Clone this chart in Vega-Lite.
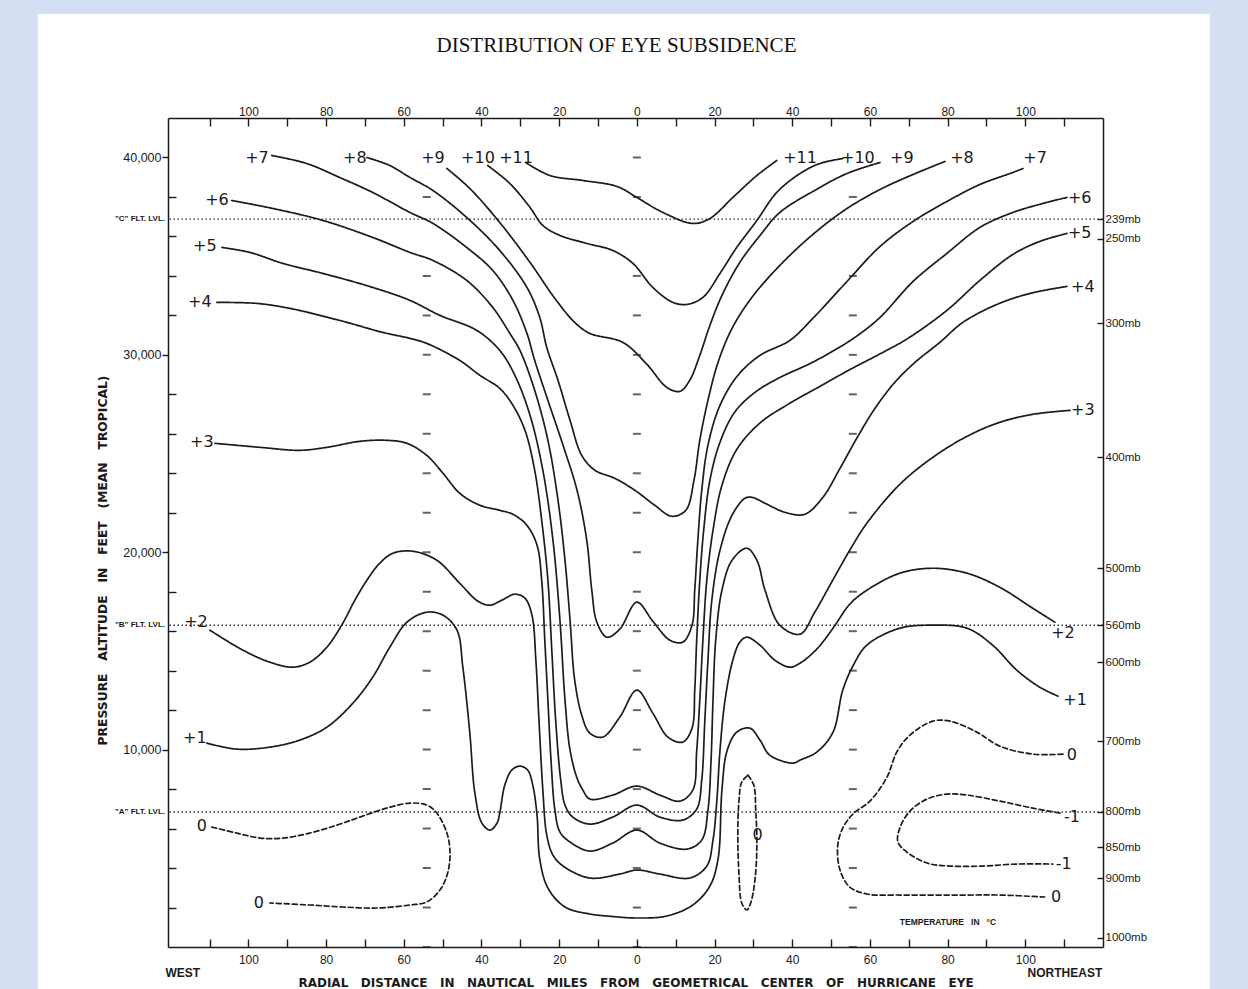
{
"$schema":"https://vega.github.io/schema/vega-lite/v6.json",
"width":935,"height":829,
"autosize":{"type":"none"},
"padding":{"left":168,"top":118,"right":145,"bottom":42},
"background":"#d5dff4",
"config":{"view":{"stroke":null},"axis":{"labelFont":"Liberation Sans","labelColor":"#1a1a1a","tickColor":"#1a1a1a","domainColor":"#1a1a1a","domainWidth":1.5,"tickWidth":1.4,"grid":false,"zindex":1,"titleColor":"#1a1a1a","labelOverlap":false,"labelFlush":false}},
"title":{"text":"DISTRIBUTION OF EYE SUBSIDENCE","font":"Liberation Serif","fontSize":21,"fontWeight":"normal","color":"#111","anchor":"middle","frame":"group","offset":-42,"dx":-19},
"datasets":{
"levels":[{"ft":36880,"name":"\"C\" FLT. LVL."},{"ft":16300,"name":"\"B\" FLT. LVL."},{"ft":6840,"name":"\"A\" FLT. LVL."}],
"marks":[
{"x":-54.1,"y":0},{"x":-54.1,"y":2000},{"x":-54.1,"y":4000},{"x":-54.1,"y":6000},{"x":-54.1,"y":8000},{"x":-54.1,"y":10000},{"x":-54.1,"y":12000},{"x":-54.1,"y":14000},{"x":-54.1,"y":16000},{"x":-54.1,"y":18000},{"x":-54.1,"y":20000},{"x":-54.1,"y":22000},{"x":-54.1,"y":24000},{"x":-54.1,"y":26000},{"x":-54.1,"y":28000},{"x":-54.1,"y":30000},{"x":-54.1,"y":32000},{"x":-54.1,"y":34000},{"x":-54.1,"y":38000},
{"x":0,"y":0},{"x":0,"y":2000},{"x":0,"y":4000},{"x":0,"y":6000},{"x":0,"y":8000},{"x":0,"y":10000},{"x":0,"y":12000},{"x":0,"y":14000},{"x":0,"y":16000},{"x":0,"y":18000},{"x":0,"y":20000},{"x":0,"y":22000},{"x":0,"y":24000},{"x":0,"y":26000},{"x":0,"y":28000},{"x":0,"y":30000},{"x":0,"y":32000},{"x":0,"y":34000},{"x":0,"y":38000},{"x":0,"y":40000},
{"x":55.6,"y":0},{"x":55.6,"y":2000},{"x":55.6,"y":4000},{"x":55.6,"y":6000},{"x":55.6,"y":8000},{"x":55.6,"y":10000},{"x":55.6,"y":12000},{"x":55.6,"y":14000},{"x":55.6,"y":16000},{"x":55.6,"y":18000},{"x":55.6,"y":20000},{"x":55.6,"y":22000},{"x":55.6,"y":24000},{"x":55.6,"y":26000},{"x":55.6,"y":28000},{"x":55.6,"y":30000},{"x":55.6,"y":32000},{"x":55.6,"y":34000},{"x":55.6,"y":38000}
],
"labels":[
{"s":"+7","x":-97.8,"y":39998},{"s":"+8","x":-72.6,"y":39998},{"s":"+9","x":-52.5,"y":39998},{"s":"+10","x":-40.9,"y":39998},{"s":"+11","x":-31.1,"y":39998},
{"s":"+11","x":42.0,"y":39998},{"s":"+10","x":56.9,"y":39998},{"s":"+9","x":68.2,"y":39998},{"s":"+8","x":83.7,"y":39998},{"s":"+7","x":102.5,"y":39998},
{"s":"+6","x":-108.1,"y":37821},{"s":"+5","x":-111.2,"y":35492},{"s":"+4","x":-112.5,"y":32657},{"s":"+3","x":-112.0,"y":25569},{"s":"+2","x":-113.5,"y":16455},{"s":"+1","x":-113.8,"y":10582},
{"s":"0","x":-112.0,"y":6127},{"s":"0","x":-97.3,"y":2228},
{"s":"+6","x":114.0,"y":37922},{"s":"+5","x":114.0,"y":36150},{"s":"+4","x":114.8,"y":33416},{"s":"+3","x":114.8,"y":27189},{"s":"+2","x":109.7,"y":15898},{"s":"+1","x":112.8,"y":12506},
{"s":"0","x":112.0,"y":9721},{"s":"-1","x":112.0,"y":6582},{"s":"-1","x":109.9,"y":4203},{"s":"0","x":107.9,"y":2532},{"s":"0","x":31.1,"y":5671}
],
"notes":[{"s":"WEST","x":-116.9,"y":-1314},{"s":"NORTHEAST","x":110.2,"y":-1300}],
"temp":[{"s":"TEMPERATURE\u00a0\u00a0\u00a0IN\u00a0\u00a0\u00a0°C","x":80.1,"y":1269}],
"lines":[
{"c":"11","t":11,"i":0,"x":-28.6,"y":39745},{"c":"11","t":11,"i":1,"x":-22.4,"y":39087},{"c":"11","t":11,"i":2,"x":-13.9,"y":38834},{"c":"11","t":11,"i":3,"x":-5.1,"y":38530},{"c":"11","t":11,"i":4,"x":0,"y":37973},{"c":"11","t":11,"i":5,"x":6.7,"y":37213},{"c":"11","t":11,"i":6,"x":14.4,"y":36657},{"c":"11","t":11,"i":7,"x":18.8,"y":36910},{"c":"11","t":11,"i":8,"x":24.7,"y":37973},{"c":"11","t":11,"i":9,"x":30.9,"y":39087},{"c":"11","t":11,"i":10,"x":36.0,"y":39846},
{"c":"10","t":10,"i":0,"x":-38.4,"y":39593},{"c":"10","t":10,"i":1,"x":-32.7,"y":38682},{"c":"10","t":10,"i":2,"x":-27.5,"y":37467},{"c":"10","t":10,"i":3,"x":-24.2,"y":36555},{"c":"10","t":10,"i":4,"x":-19.8,"y":36049},{"c":"10","t":10,"i":5,"x":-12.9,"y":35644},{"c":"10","t":10,"i":6,"x":-6.2,"y":35289},{"c":"10","t":10,"i":7,"x":-1.0,"y":34631},{"c":"10","t":10,"i":8,"x":4.1,"y":33416},{"c":"10","t":10,"i":9,"x":9.3,"y":32657},{"c":"10","t":10,"i":10,"x":12.9,"y":32555},{"c":"10","t":10,"i":11,"x":17.0,"y":32910},{"c":"10","t":10,"i":12,"x":21.4,"y":34125},{"c":"10","t":10,"i":13,"x":25.7,"y":35441},{"c":"10","t":10,"i":14,"x":30.9,"y":36808},{"c":"10","t":10,"i":15,"x":36.0,"y":38226},{"c":"10","t":10,"i":16,"x":42.0,"y":39188},{"c":"10","t":10,"i":17,"x":47.1,"y":39694},{"c":"10","t":10,"i":18,"x":53.0,"y":39947},
{"c":"9","t":9,"i":0,"x":-48.9,"y":39441},{"c":"9","t":9,"i":1,"x":-43.0,"y":38429},{"c":"9","t":9,"i":2,"x":-35.3,"y":36707},{"c":"9","t":9,"i":3,"x":-27.5,"y":34682},{"c":"9","t":9,"i":4,"x":-21.1,"y":32859},{"c":"9","t":9,"i":5,"x":-16.0,"y":31644},{"c":"9","t":9,"i":6,"x":-12.1,"y":31087},{"c":"9","t":9,"i":7,"x":-3.6,"y":30632},{"c":"9","t":9,"i":8,"x":2.6,"y":29518},{"c":"9","t":9,"i":9,"x":7.7,"y":28353},{"c":"9","t":9,"i":10,"x":11.1,"y":28151},{"c":"9","t":9,"i":11,"x":13.6,"y":28708},{"c":"9","t":9,"i":12,"x":16.2,"y":29973},{"c":"9","t":9,"i":13,"x":18.8,"y":31492},{"c":"9","t":9,"i":14,"x":21.9,"y":33011},{"c":"9","t":9,"i":15,"x":26.5,"y":34682},{"c":"9","t":9,"i":16,"x":31.7,"y":36049},{"c":"9","t":9,"i":17,"x":36.8,"y":37213},{"c":"9","t":9,"i":18,"x":45.3,"y":38277},{"c":"9","t":9,"i":19,"x":54.1,"y":39188},{"c":"9","t":9,"i":20,"x":62.6,"y":39745},
{"c":"8","t":8,"i":0,"x":-69.5,"y":39998},{"c":"8","t":8,"i":1,"x":-63.6,"y":39593},{"c":"8","t":8,"i":2,"x":-58.4,"y":38985},{"c":"8","t":8,"i":3,"x":-52.5,"y":38327},{"c":"8","t":8,"i":4,"x":-43.8,"y":36960},{"c":"8","t":8,"i":5,"x":-35.3,"y":35289},{"c":"8","t":8,"i":6,"x":-28.3,"y":33416},{"c":"8","t":8,"i":7,"x":-25.0,"y":31897},{"c":"8","t":8,"i":8,"x":-23.2,"y":30378},{"c":"8","t":8,"i":9,"x":-20.3,"y":28708},{"c":"8","t":8,"i":10,"x":-17.2,"y":26682},{"c":"8","t":8,"i":11,"x":-14.2,"y":24910},{"c":"8","t":8,"i":12,"x":-10.8,"y":24151},{"c":"8","t":8,"i":13,"x":-5.7,"y":23746},{"c":"8","t":8,"i":14,"x":-0.5,"y":23138},{"c":"8","t":8,"i":15,"x":4.6,"y":22379},{"c":"8","t":8,"i":16,"x":9.0,"y":21822},{"c":"8","t":8,"i":17,"x":12.6,"y":22126},{"c":"8","t":8,"i":18,"x":14.7,"y":23645},{"c":"8","t":8,"i":19,"x":16.2,"y":25670},{"c":"8","t":8,"i":20,"x":18.3,"y":27695},{"c":"8","t":8,"i":21,"x":20.9,"y":29619},{"c":"8","t":8,"i":22,"x":24.5,"y":31340},{"c":"8","t":8,"i":23,"x":29.6,"y":32910},{"c":"8","t":8,"i":24,"x":36.8,"y":34530},{"c":"8","t":8,"i":25,"x":45.3,"y":36100},{"c":"8","t":8,"i":26,"x":54.1,"y":37416},{"c":"8","t":8,"i":27,"x":62.6,"y":38378},{"c":"8","t":8,"i":28,"x":71.1,"y":39137},{"c":"8","t":8,"i":29,"x":79.3,"y":39796},
{"c":"7","t":7,"i":0,"x":-94.0,"y":40099},{"c":"7","t":7,"i":1,"x":-85.0,"y":39694},{"c":"7","t":7,"i":2,"x":-76.5,"y":38985},{"c":"7","t":7,"i":3,"x":-68.0,"y":38226},{"c":"7","t":7,"i":4,"x":-58.4,"y":37213},{"c":"7","t":7,"i":5,"x":-52.5,"y":36657},{"c":"7","t":7,"i":6,"x":-43.8,"y":35441},{"c":"7","t":7,"i":7,"x":-37.1,"y":34277},{"c":"7","t":7,"i":8,"x":-31.9,"y":32758},{"c":"7","t":7,"i":9,"x":-28.3,"y":31087},{"c":"7","t":7,"i":10,"x":-26.3,"y":29720},{"c":"7","t":7,"i":11,"x":-22.9,"y":27695},{"c":"7","t":7,"i":12,"x":-19.0,"y":25417},{"c":"7","t":7,"i":13,"x":-15.4,"y":23138},{"c":"7","t":7,"i":14,"x":-12.9,"y":20607},{"c":"7","t":7,"i":15,"x":-11.6,"y":18075},{"c":"7","t":7,"i":16,"x":-10.3,"y":16455},{"c":"7","t":7,"i":17,"x":-7.7,"y":15696},{"c":"7","t":7,"i":18,"x":-4.4,"y":16101},{"c":"7","t":7,"i":19,"x":0,"y":17468},{"c":"7","t":7,"i":20,"x":4.1,"y":16506},{"c":"7","t":7,"i":21,"x":8.5,"y":15544},{"c":"7","t":7,"i":22,"x":11.8,"y":15443},{"c":"7","t":7,"i":23,"x":14.2,"y":16303},{"c":"7","t":7,"i":24,"x":14.9,"y":18075},{"c":"7","t":7,"i":25,"x":15.7,"y":20607},{"c":"7","t":7,"i":26,"x":16.7,"y":23138},{"c":"7","t":7,"i":27,"x":18.3,"y":25417},{"c":"7","t":7,"i":28,"x":21.4,"y":27442},{"c":"7","t":7,"i":29,"x":26.0,"y":28961},{"c":"7","t":7,"i":30,"x":31.7,"y":29973},{"c":"7","t":7,"i":31,"x":39.4,"y":30733},{"c":"7","t":7,"i":32,"x":45.3,"y":31847},{"c":"7","t":7,"i":33,"x":54.1,"y":33720},{"c":"7","t":7,"i":34,"x":62.6,"y":35492},{"c":"7","t":7,"i":35,"x":71.1,"y":36758},{"c":"7","t":7,"i":36,"x":79.8,"y":37770},{"c":"7","t":7,"i":37,"x":88.3,"y":38631},{"c":"7","t":7,"i":38,"x":96.8,"y":39239},{"c":"7","t":7,"i":39,"x":99.4,"y":39441},
{"c":"6","t":6,"i":0,"x":-104.3,"y":37821},{"c":"6","t":6,"i":1,"x":-93.7,"y":37416},{"c":"6","t":6,"i":2,"x":-80.8,"y":36808},{"c":"6","t":6,"i":3,"x":-68.0,"y":35948},{"c":"6","t":6,"i":4,"x":-58.4,"y":35188},{"c":"6","t":6,"i":5,"x":-52.5,"y":34783},{"c":"6","t":6,"i":6,"x":-43.8,"y":33771},{"c":"6","t":6,"i":7,"x":-37.1,"y":32404},{"c":"6","t":6,"i":8,"x":-32.7,"y":31087},{"c":"6","t":6,"i":9,"x":-30.1,"y":30226},{"c":"6","t":6,"i":10,"x":-26.3,"y":28201},{"c":"6","t":6,"i":11,"x":-22.9,"y":25670},{"c":"6","t":6,"i":12,"x":-20.3,"y":22632},{"c":"6","t":6,"i":13,"x":-18.5,"y":19594},{"c":"6","t":6,"i":14,"x":-17.2,"y":16556},{"c":"6","t":6,"i":15,"x":-16.0,"y":13519},{"c":"6","t":6,"i":16,"x":-14.2,"y":11747},{"c":"6","t":6,"i":17,"x":-12.1,"y":10835},{"c":"6","t":6,"i":18,"x":-8.8,"y":10633},{"c":"6","t":6,"i":19,"x":-4.4,"y":11645},{"c":"6","t":6,"i":20,"x":0,"y":13012},{"c":"6","t":6,"i":21,"x":4.1,"y":11848},{"c":"6","t":6,"i":22,"x":8.0,"y":10633},{"c":"6","t":6,"i":23,"x":11.8,"y":10380},{"c":"6","t":6,"i":24,"x":14.2,"y":11088},{"c":"6","t":6,"i":25,"x":14.9,"y":13012},{"c":"6","t":6,"i":26,"x":15.4,"y":15544},{"c":"6","t":6,"i":27,"x":16.2,"y":18582},{"c":"6","t":6,"i":28,"x":17.2,"y":21113},{"c":"6","t":6,"i":29,"x":18.8,"y":23645},{"c":"6","t":6,"i":30,"x":21.4,"y":25570},{"c":"6","t":6,"i":31,"x":25.2,"y":27100},{"c":"6","t":6,"i":32,"x":30.4,"y":28100},{"c":"6","t":6,"i":33,"x":36.8,"y":28850},{"c":"6","t":6,"i":34,"x":44.5,"y":29550},{"c":"6","t":6,"i":35,"x":51.0,"y":30250},{"c":"6","t":6,"i":36,"x":56.6,"y":30950},{"c":"6","t":6,"i":37,"x":62.6,"y":31897},{"c":"6","t":6,"i":38,"x":71.1,"y":33720},{"c":"6","t":6,"i":39,"x":79.8,"y":35138},{"c":"6","t":6,"i":40,"x":88.3,"y":36454},{"c":"6","t":6,"i":41,"x":96.8,"y":37213},{"c":"6","t":6,"i":42,"x":105.5,"y":37720},{"c":"6","t":6,"i":43,"x":110.7,"y":37973},
{"c":"5","t":5,"i":0,"x":-106.8,"y":35441},{"c":"5","t":5,"i":1,"x":-99.6,"y":35188},{"c":"5","t":5,"i":2,"x":-91.1,"y":34631},{"c":"5","t":5,"i":3,"x":-80.8,"y":34125},{"c":"5","t":5,"i":4,"x":-68.0,"y":33416},{"c":"5","t":5,"i":5,"x":-58.4,"y":32758},{"c":"5","t":5,"i":6,"x":-50.7,"y":31999},{"c":"5","t":5,"i":7,"x":-41.2,"y":31239},{"c":"5","t":5,"i":8,"x":-35.3,"y":30226},{"c":"5","t":5,"i":9,"x":-31.4,"y":28961},{"c":"5","t":5,"i":10,"x":-27.5,"y":26936},{"c":"5","t":5,"i":11,"x":-24.2,"y":24151},{"c":"5","t":5,"i":12,"x":-21.6,"y":20607},{"c":"5","t":5,"i":13,"x":-19.8,"y":16556},{"c":"5","t":5,"i":14,"x":-18.5,"y":12506},{"c":"5","t":5,"i":15,"x":-17.2,"y":9974},{"c":"5","t":5,"i":16,"x":-15.4,"y":8557},{"c":"5","t":5,"i":17,"x":-13.9,"y":7949},{"c":"5","t":5,"i":18,"x":-12.1,"y":7494},{"c":"5","t":5,"i":19,"x":-6.2,"y":7696},{"c":"5","t":5,"i":20,"x":0,"y":8152},{"c":"5","t":5,"i":21,"x":5.9,"y":7696},{"c":"5","t":5,"i":22,"x":11.1,"y":7392},{"c":"5","t":5,"i":23,"x":14.4,"y":7949},{"c":"5","t":5,"i":24,"x":15.4,"y":9924},{"c":"5","t":5,"i":25,"x":16.2,"y":12506},{"c":"5","t":5,"i":26,"x":17.0,"y":15544},{"c":"5","t":5,"i":27,"x":18.0,"y":18582},{"c":"5","t":5,"i":28,"x":19.6,"y":21113},{"c":"5","t":5,"i":29,"x":21.9,"y":23391},{"c":"5","t":5,"i":30,"x":25.7,"y":25200},{"c":"5","t":5,"i":31,"x":31.7,"y":26550},{"c":"5","t":5,"i":32,"x":39.4,"y":27550},{"c":"5","t":5,"i":33,"x":47.1,"y":28400},{"c":"5","t":5,"i":34,"x":54.8,"y":29250},{"c":"5","t":5,"i":35,"x":62.6,"y":30050},{"c":"5","t":5,"i":36,"x":69.5,"y":30800},{"c":"5","t":5,"i":37,"x":79.8,"y":32252},{"c":"5","t":5,"i":38,"x":88.3,"y":33771},{"c":"5","t":5,"i":39,"x":96.8,"y":35087},{"c":"5","t":5,"i":40,"x":103.7,"y":35745},{"c":"5","t":5,"i":41,"x":110.7,"y":36150},
{"c":"4","t":4,"i":0,"x":-108.1,"y":32657},{"c":"4","t":4,"i":1,"x":-97.8,"y":32606},{"c":"4","t":4,"i":2,"x":-89.3,"y":32353},{"c":"4","t":4,"i":3,"x":-76.5,"y":31745},{"c":"4","t":4,"i":4,"x":-65.4,"y":31138},{"c":"4","t":4,"i":5,"x":-58.4,"y":30834},{"c":"4","t":4,"i":6,"x":-54.1,"y":30581},{"c":"4","t":4,"i":7,"x":-45.6,"y":29720},{"c":"4","t":4,"i":8,"x":-40.4,"y":28961},{"c":"4","t":4,"i":9,"x":-35.3,"y":28303},{"c":"4","t":4,"i":10,"x":-31.9,"y":27442},{"c":"4","t":4,"i":11,"x":-28.8,"y":26176},{"c":"4","t":4,"i":12,"x":-26.3,"y":24151},{"c":"4","t":4,"i":13,"x":-24.5,"y":21619},{"c":"4","t":4,"i":14,"x":-22.9,"y":18582},{"c":"4","t":4,"i":15,"x":-21.9,"y":15037},{"c":"4","t":4,"i":16,"x":-20.9,"y":11493},{"c":"4","t":4,"i":17,"x":-19.6,"y":8456},{"c":"4","t":4,"i":18,"x":-18.5,"y":7190},{"c":"4","t":4,"i":19,"x":-16.5,"y":6582},{"c":"4","t":4,"i":20,"x":-12.1,"y":6228},{"c":"4","t":4,"i":21,"x":-6.2,"y":6582},{"c":"4","t":4,"i":22,"x":0,"y":7190},{"c":"4","t":4,"i":23,"x":5.9,"y":6582},{"c":"4","t":4,"i":24,"x":11.8,"y":6430},{"c":"4","t":4,"i":25,"x":15.4,"y":6987},{"c":"4","t":4,"i":26,"x":16.7,"y":8456},{"c":"4","t":4,"i":27,"x":17.5,"y":11493},{"c":"4","t":4,"i":28,"x":18.3,"y":14531},{"c":"4","t":4,"i":29,"x":19.3,"y":17569},{"c":"4","t":4,"i":30,"x":21.4,"y":20100},{"c":"4","t":4,"i":31,"x":24.5,"y":21873},{"c":"4","t":4,"i":32,"x":27.8,"y":22733},{"c":"4","t":4,"i":33,"x":29.6,"y":22784},{"c":"4","t":4,"i":34,"x":33.0,"y":22480},{"c":"4","t":4,"i":35,"x":38.1,"y":22024},{"c":"4","t":4,"i":36,"x":43.2,"y":21923},{"c":"4","t":4,"i":37,"x":47.9,"y":22784},{"c":"4","t":4,"i":38,"x":52.3,"y":24252},{"c":"4","t":4,"i":39,"x":56.6,"y":25771},{"c":"4","t":4,"i":40,"x":61.3,"y":27290},{"c":"4","t":4,"i":41,"x":66.4,"y":28606},{"c":"4","t":4,"i":42,"x":71.6,"y":29619},{"c":"4","t":4,"i":43,"x":78.0,"y":30632},{"c":"4","t":4,"i":44,"x":83.9,"y":31644},{"c":"4","t":4,"i":45,"x":92.7,"y":32555},{"c":"4","t":4,"i":46,"x":101.2,"y":33112},{"c":"4","t":4,"i":47,"x":110.7,"y":33467},
{"c":"3","t":3,"i":0,"x":-108.6,"y":25518},{"c":"3","t":3,"i":1,"x":-97.0,"y":25315},{"c":"3","t":3,"i":2,"x":-86.8,"y":25163},{"c":"3","t":3,"i":3,"x":-79.8,"y":25315},{"c":"3","t":3,"i":4,"x":-71.3,"y":25619},{"c":"3","t":3,"i":5,"x":-64.4,"y":25670},{"c":"3","t":3,"i":6,"x":-59.2,"y":25518},{"c":"3","t":3,"i":7,"x":-54.1,"y":24910},{"c":"3","t":3,"i":8,"x":-49.9,"y":23999},{"c":"3","t":3,"i":9,"x":-45.6,"y":22986},{"c":"3","t":3,"i":10,"x":-40.4,"y":22379},{"c":"3","t":3,"i":11,"x":-35.3,"y":22126},{"c":"3","t":3,"i":12,"x":-31.9,"y":21923},{"c":"3","t":3,"i":13,"x":-28.3,"y":21366},{"c":"3","t":3,"i":14,"x":-25.7,"y":20354},{"c":"3","t":3,"i":15,"x":-24.5,"y":18582},{"c":"3","t":3,"i":16,"x":-23.7,"y":15544},{"c":"3","t":3,"i":17,"x":-22.9,"y":12506},{"c":"3","t":3,"i":18,"x":-22.1,"y":9468},{"c":"3","t":3,"i":19,"x":-21.1,"y":6937},{"c":"3","t":3,"i":20,"x":-19.8,"y":5823},{"c":"3","t":3,"i":21,"x":-17.2,"y":5317},{"c":"3","t":3,"i":22,"x":-12.1,"y":4861},{"c":"3","t":3,"i":23,"x":-6.2,"y":5266},{"c":"3","t":3,"i":24,"x":0,"y":5924},{"c":"3","t":3,"i":25,"x":5.9,"y":5266},{"c":"3","t":3,"i":26,"x":12.9,"y":4962},{"c":"3","t":3,"i":27,"x":16.7,"y":5418},{"c":"3","t":3,"i":28,"x":18.3,"y":6937},{"c":"3","t":3,"i":29,"x":19.1,"y":9468},{"c":"3","t":3,"i":30,"x":19.6,"y":12506},{"c":"3","t":3,"i":31,"x":20.3,"y":15544},{"c":"3","t":3,"i":32,"x":21.9,"y":18075},{"c":"3","t":3,"i":33,"x":24.5,"y":19594},{"c":"3","t":3,"i":34,"x":28.3,"y":20202},{"c":"3","t":3,"i":35,"x":30.9,"y":19594},{"c":"3","t":3,"i":36,"x":33.0,"y":18075},{"c":"3","t":3,"i":37,"x":36.8,"y":16303},{"c":"3","t":3,"i":38,"x":42.0,"y":15848},{"c":"3","t":3,"i":39,"x":45.8,"y":16961},{"c":"3","t":3,"i":40,"x":49.7,"y":18328},{"c":"3","t":3,"i":41,"x":54.8,"y":20100},{"c":"3","t":3,"i":42,"x":59.2,"y":21468},{"c":"3","t":3,"i":43,"x":67.7,"y":23442},{"c":"3","t":3,"i":44,"x":76.2,"y":24809},{"c":"3","t":3,"i":45,"x":85.0,"y":25872},{"c":"3","t":3,"i":46,"x":93.4,"y":26581},{"c":"3","t":3,"i":47,"x":101.9,"y":26986},{"c":"3","t":3,"i":48,"x":111.5,"y":27189},
{"c":"2","t":2,"i":0,"x":-109.9,"y":16050},{"c":"2","t":2,"i":1,"x":-101.4,"y":15037},{"c":"2","t":2,"i":2,"x":-94.5,"y":14430},{"c":"2","t":2,"i":3,"x":-88.6,"y":14177},{"c":"2","t":2,"i":4,"x":-84.2,"y":14430},{"c":"2","t":2,"i":5,"x":-79.8,"y":15189},{"c":"2","t":2,"i":6,"x":-75.7,"y":16405},{"c":"2","t":2,"i":7,"x":-72.6,"y":17569},{"c":"2","t":2,"i":8,"x":-69.5,"y":18582},{"c":"2","t":2,"i":9,"x":-66.2,"y":19442},{"c":"2","t":2,"i":10,"x":-62.8,"y":19949},{"c":"2","t":2,"i":11,"x":-57.7,"y":20050},{"c":"2","t":2,"i":12,"x":-51.5,"y":19594},{"c":"2","t":2,"i":13,"x":-45.6,"y":18430},{"c":"2","t":2,"i":14,"x":-40.9,"y":17518},{"c":"2","t":2,"i":15,"x":-37.8,"y":17316},{"c":"2","t":2,"i":16,"x":-34.8,"y":17569},{"c":"2","t":2,"i":17,"x":-31.4,"y":17873},{"c":"2","t":2,"i":18,"x":-28.8,"y":17670},{"c":"2","t":2,"i":19,"x":-27.0,"y":16810},{"c":"2","t":2,"i":20,"x":-26.0,"y":14531},{"c":"2","t":2,"i":21,"x":-25.2,"y":11493},{"c":"2","t":2,"i":22,"x":-24.2,"y":7949},{"c":"2","t":2,"i":23,"x":-23.2,"y":5671},{"c":"2","t":2,"i":24,"x":-21.6,"y":4658},{"c":"2","t":2,"i":25,"x":-19.0,"y":4101},{"c":"2","t":2,"i":26,"x":-12.1,"y":3494},{"c":"2","t":2,"i":27,"x":-4.4,"y":3696},{"c":"2","t":2,"i":28,"x":0,"y":3899},{"c":"2","t":2,"i":29,"x":5.9,"y":3696},{"c":"2","t":2,"i":30,"x":13.6,"y":3494},{"c":"2","t":2,"i":31,"x":18.0,"y":4101},{"c":"2","t":2,"i":32,"x":19.6,"y":5418},{"c":"2","t":2,"i":33,"x":20.6,"y":7443},{"c":"2","t":2,"i":34,"x":21.4,"y":9974},{"c":"2","t":2,"i":35,"x":22.7,"y":12506},{"c":"2","t":2,"i":36,"x":24.7,"y":14531},{"c":"2","t":2,"i":37,"x":26.5,"y":15443},{"c":"2","t":2,"i":38,"x":28.3,"y":15696},{"c":"2","t":2,"i":39,"x":31.7,"y":15291},{"c":"2","t":2,"i":40,"x":35.5,"y":14531},{"c":"2","t":2,"i":41,"x":39.4,"y":14177},{"c":"2","t":2,"i":42,"x":42.0,"y":14379},{"c":"2","t":2,"i":43,"x":46.3,"y":15088},{"c":"2","t":2,"i":44,"x":50.5,"y":16151},{"c":"2","t":2,"i":45,"x":54.8,"y":17366},{"c":"2","t":2,"i":46,"x":59.2,"y":18075},{"c":"2","t":2,"i":47,"x":67.7,"y":18936},{"c":"2","t":2,"i":48,"x":76.2,"y":19189},{"c":"2","t":2,"i":49,"x":85.0,"y":18936},{"c":"2","t":2,"i":50,"x":93.4,"y":18227},{"c":"2","t":2,"i":51,"x":101.9,"y":17164},{"c":"2","t":2,"i":52,"x":107.6,"y":16455},
{"c":"1","t":1,"i":0,"x":-110.7,"y":10329},{"c":"1","t":1,"i":1,"x":-103.0,"y":10025},{"c":"1","t":1,"i":2,"x":-94.5,"y":10126},{"c":"1","t":1,"i":3,"x":-86.8,"y":10481},{"c":"1","t":1,"i":4,"x":-79.8,"y":11139},{"c":"1","t":1,"i":5,"x":-73.1,"y":12354},{"c":"1","t":1,"i":6,"x":-68.0,"y":13670},{"c":"1","t":1,"i":7,"x":-63.6,"y":15189},{"c":"1","t":1,"i":8,"x":-59.2,"y":16455},{"c":"1","t":1,"i":9,"x":-54.1,"y":16961},{"c":"1","t":1,"i":10,"x":-49.9,"y":16810},{"c":"1","t":1,"i":11,"x":-46.3,"y":16050},{"c":"1","t":1,"i":12,"x":-44.8,"y":14177},{"c":"1","t":1,"i":13,"x":-43.0,"y":10835},{"c":"1","t":1,"i":14,"x":-41.7,"y":7797},{"c":"1","t":1,"i":15,"x":-39.9,"y":6279},{"c":"1","t":1,"i":16,"x":-37.8,"y":5924},{"c":"1","t":1,"i":17,"x":-36.0,"y":6279},{"c":"1","t":1,"i":18,"x":-35.3,"y":6785},{"c":"1","t":1,"i":19,"x":-34.0,"y":8202},{"c":"1","t":1,"i":20,"x":-32.2,"y":8962},{"c":"1","t":1,"i":21,"x":-30.1,"y":9164},{"c":"1","t":1,"i":22,"x":-28.1,"y":8962},{"c":"1","t":1,"i":23,"x":-26.8,"y":8202},{"c":"1","t":1,"i":24,"x":-25.7,"y":6684},{"c":"1","t":1,"i":25,"x":-25.0,"y":4456},{"c":"1","t":1,"i":26,"x":-22.9,"y":2988},{"c":"1","t":1,"i":27,"x":-18.5,"y":2026},{"c":"1","t":1,"i":28,"x":-12.1,"y":1671},{"c":"1","t":1,"i":29,"x":-7.7,"y":1570},{"c":"1","t":1,"i":30,"x":0,"y":1469},{"c":"1","t":1,"i":31,"x":7.7,"y":1570},{"c":"1","t":1,"i":32,"x":14.4,"y":2127},{"c":"1","t":1,"i":33,"x":18.8,"y":3089},{"c":"1","t":1,"i":34,"x":20.9,"y":4456},{"c":"1","t":1,"i":35,"x":21.9,"y":7949},{"c":"1","t":1,"i":36,"x":23.2,"y":9924},{"c":"1","t":1,"i":37,"x":25.7,"y":10886},{"c":"1","t":1,"i":38,"x":29.1,"y":11088},{"c":"1","t":1,"i":39,"x":31.7,"y":10481},{"c":"1","t":1,"i":40,"x":34.2,"y":9721},{"c":"1","t":1,"i":41,"x":40.2,"y":9316},{"c":"1","t":1,"i":42,"x":42.0,"y":9468},{"c":"1","t":1,"i":43,"x":46.3,"y":9873},{"c":"1","t":1,"i":44,"x":50.5,"y":10886},{"c":"1","t":1,"i":45,"x":53.0,"y":13012},{"c":"1","t":1,"i":46,"x":55.6,"y":14227},{"c":"1","t":1,"i":47,"x":59.2,"y":15291},{"c":"1","t":1,"i":48,"x":67.7,"y":16151},{"c":"1","t":1,"i":49,"x":76.2,"y":16303},{"c":"1","t":1,"i":50,"x":85.0,"y":16151},{"c":"1","t":1,"i":51,"x":91.6,"y":15291},{"c":"1","t":1,"i":52,"x":97.8,"y":14025},{"c":"1","t":1,"i":53,"x":103.7,"y":13164},{"c":"1","t":1,"i":54,"x":108.4,"y":12709},
{"c":"0w","t":0,"i":0,"x":-109.4,"y":6076},{"c":"0w","t":0,"i":1,"x":-103.0,"y":5772},{"c":"0w","t":0,"i":2,"x":-97.0,"y":5519},{"c":"0w","t":0,"i":3,"x":-91.1,"y":5519},{"c":"0w","t":0,"i":4,"x":-84.2,"y":5772},{"c":"0w","t":0,"i":5,"x":-77.2,"y":6177},{"c":"0w","t":0,"i":6,"x":-71.3,"y":6582},{"c":"0w","t":0,"i":7,"x":-64.4,"y":7038},{"c":"0w","t":0,"i":8,"x":-58.4,"y":7291},{"c":"0w","t":0,"i":9,"x":-54.1,"y":7190},{"c":"0w","t":0,"i":10,"x":-51.5,"y":6785},{"c":"0w","t":0,"i":11,"x":-48.9,"y":5772},{"c":"0w","t":0,"i":12,"x":-48.1,"y":4760},{"c":"0w","t":0,"i":13,"x":-48.7,"y":3747},{"c":"0w","t":0,"i":14,"x":-50.7,"y":2886},{"c":"0w","t":0,"i":15,"x":-54.1,"y":2279},{"c":"0w","t":0,"i":16,"x":-58.4,"y":2127},{"c":"0w","t":0,"i":17,"x":-66.9,"y":1975},{"c":"0w","t":0,"i":18,"x":-75.7,"y":2026},{"c":"0w","t":0,"i":19,"x":-84.2,"y":2127},{"c":"0w","t":0,"i":20,"x":-94.5,"y":2228},
{"c":"0c","t":0,"i":0,"x":28.6,"y":8709},{"c":"0c","t":0,"i":1,"x":30.1,"y":8202},{"c":"0c","t":0,"i":2,"x":30.6,"y":6937},{"c":"0c","t":0,"i":3,"x":30.9,"y":5165},{"c":"0c","t":0,"i":4,"x":30.4,"y":3393},{"c":"0c","t":0,"i":5,"x":29.3,"y":2228},{"c":"0c","t":0,"i":6,"x":28.3,"y":1874},{"c":"0c","t":0,"i":7,"x":27.0,"y":2228},{"c":"0c","t":0,"i":8,"x":26.3,"y":3646},{"c":"0c","t":0,"i":9,"x":26.0,"y":5671},{"c":"0c","t":0,"i":10,"x":26.3,"y":7443},{"c":"0c","t":0,"i":11,"x":27.0,"y":8354},{"c":"0c","t":0,"i":12,"x":28.6,"y":8709},
{"c":"0e","t":0,"i":0,"x":109.7,"y":9772},{"c":"0e","t":0,"i":1,"x":101.9,"y":9772},{"c":"0e","t":0,"i":2,"x":93.4,"y":10177},{"c":"0e","t":0,"i":3,"x":87.5,"y":10886},{"c":"0e","t":0,"i":4,"x":80.6,"y":11443},{"c":"0e","t":0,"i":5,"x":76.2,"y":11443},{"c":"0e","t":0,"i":6,"x":70.3,"y":10734},{"c":"0e","t":0,"i":7,"x":66.9,"y":9873},{"c":"0e","t":0,"i":8,"x":64.4,"y":8607},{"c":"0e","t":0,"i":9,"x":60.0,"y":7392},{"c":"0e","t":0,"i":10,"x":55.6,"y":6734},{"c":"0e","t":0,"i":11,"x":53.0,"y":6025},{"c":"0e","t":0,"i":12,"x":51.7,"y":5114},{"c":"0e","t":0,"i":13,"x":52.3,"y":3899},{"c":"0e","t":0,"i":14,"x":54.8,"y":3038},{"c":"0e","t":0,"i":15,"x":59.2,"y":2684},{"c":"0e","t":0,"i":16,"x":67.7,"y":2633},{"c":"0e","t":0,"i":17,"x":76.2,"y":2633},{"c":"0e","t":0,"i":18,"x":85.0,"y":2633},{"c":"0e","t":0,"i":19,"x":93.4,"y":2633},{"c":"0e","t":0,"i":20,"x":105.0,"y":2532},
{"c":"m1","t":-1,"i":0,"x":108.9,"y":6785},{"c":"m1","t":-1,"i":1,"x":101.9,"y":7038},{"c":"m1","t":-1,"i":2,"x":93.4,"y":7392},{"c":"m1","t":-1,"i":3,"x":85.0,"y":7696},{"c":"m1","t":-1,"i":4,"x":79.8,"y":7747},{"c":"m1","t":-1,"i":5,"x":74.7,"y":7494},{"c":"m1","t":-1,"i":6,"x":70.3,"y":6886},{"c":"m1","t":-1,"i":7,"x":67.7,"y":6025},{"c":"m1","t":-1,"i":8,"x":67.2,"y":5317},{"c":"m1","t":-1,"i":9,"x":69.5,"y":4810},{"c":"m1","t":-1,"i":10,"x":74.7,"y":4253},{"c":"m1","t":-1,"i":11,"x":80.6,"y":4101},{"c":"m1","t":-1,"i":12,"x":89.1,"y":4101},{"c":"m1","t":-1,"i":13,"x":97.8,"y":4203},{"c":"m1","t":-1,"i":14,"x":107.1,"y":4203}
]
},
"layer":[
{"data":{"values":[{}]},"mark":{"type":"rect","fill":"white"},
 "encoding":{"x":{"datum":-154.2,"type":"quantitative","scale":{"domain":[-120.7,120],"nice":false,"zero":false},"axis":null},"x2":{"datum":147.5},
 "y":{"datum":47270,"type":"quantitative","scale":{"domain":[0,42000],"nice":false,"zero":false},"axis":null},"y2":{"datum":-2500}}},
{"data":{"name":"levels"},"mark":{"type":"rule","strokeDash":[1.5,2.5],"strokeWidth":1.3,"color":"#333"},
 "encoding":{"y":{"field":"ft","type":"quantitative","scale":{"domain":[0,42000],"nice":false,"zero":false},
  "axis":{"orient":"right","values":[36880,35880,31600,24810,19190,16300,14430,10430,6840,5060,3490,460],"labelExpr":"datum.value==36880?'239mb':datum.value==35880?'250mb':datum.value==31600?'300mb':datum.value==24810?'400mb':datum.value==19190?'500mb':datum.value==16300?'560mb':datum.value==14430?'600mb':datum.value==10430?'700mb':datum.value==6840?'800mb':datum.value==5060?'850mb':datum.value==3490?'900mb':'1000mb'","tickSize":-6,"labelPadding":8,"labelFontSize":11.5,"title":null,"zindex":1}}}},
{"data":{"name":"marks"},"mark":{"type":"tick","orient":"horizontal","size":8,"thickness":2,"color":"#222"},
 "encoding":{"x":{"field":"x","type":"quantitative","scale":{"domain":[-120.7,120],"nice":false,"zero":false},
  "axis":{"orient":"top","values":[-110,-100,-90,-80,-70,-60,-50,-40,-30,-20,-10,0,10,20,30,40,50,60,70,80,90,100,110],"labelExpr":"datum.value % 20 == 0 ? format(abs(datum.value),'d') : ''","tickSize":-8,"labelPadding":8,"labelFontSize":12,"title":null,"zindex":1}},
  "y":{"field":"y","type":"quantitative","scale":{"domain":[0,42000],"nice":false,"zero":false},
  "axis":{"orient":"left","values":[2000,4000,6000,8000,12000,14000,16000,18000,22000,24000,26000,28000,32000,34000,36000,38000],"labels":false,"tickSize":-8,"domain":false,"title":null,"zindex":1}}}},
{"data":{"name":"lines"},"mark":{"type":"line","interpolate":"catmull-rom","strokeWidth":1.7,"color":"#1c1c1c","strokeJoin":"round","strokeCap":"round"},
 "encoding":{"x":{"field":"x","type":"quantitative","scale":{"domain":[-120.7,120],"nice":false,"zero":false},
  "axis":{"orient":"bottom","values":[-110,-100,-90,-80,-70,-60,-50,-40,-30,-20,-10,0,10,20,30,40,50,60,70,80,90,100,110],"labelExpr":"datum.value % 20 == 0 ? format(abs(datum.value),'d') : ''","tickSize":-8,"labelPadding":15,"labelFontSize":12,
   "title":"RADIAL\u00a0\u00a0\u00a0DISTANCE\u00a0\u00a0\u00a0IN\u00a0\u00a0\u00a0NAUTICAL\u00a0\u00a0\u00a0MILES\u00a0\u00a0\u00a0FROM\u00a0\u00a0\u00a0GEOMETRICAL\u00a0\u00a0\u00a0CENTER\u00a0\u00a0\u00a0OF\u00a0\u00a0\u00a0HURRICANE\u00a0\u00a0\u00a0EYE","titleFont":"DejaVu Sans","titleFontSize":12,"titleFontWeight":"bold","titleY":30,"titleBaseline":"top","zindex":1}},
  "y":{"field":"y","type":"quantitative","scale":{"domain":[0,42000],"nice":false,"zero":false},
  "axis":{"orient":"left","values":[10000,20000,30000,40000],"labelExpr":"format(datum.value, ',')","tickSize":6,"labelPadding":1,"labelFontSize":12.5,
   "title":"PRESSURE\u00a0\u00a0\u00a0ALTITUDE\u00a0\u00a0\u00a0IN\u00a0\u00a0\u00a0FEET\u00a0\u00a0\u00a0(MEAN\u00a0\u00a0\u00a0TROPICAL)","titleFont":"DejaVu Sans","titleFontSize":12.3,"titleFontWeight":"bold","titleX":-66,"titleY":442,"titleAngle":-90,"titleBaseline":"middle","titleAlign":"center","zindex":1}},
  "detail":{"field":"c","type":"nominal"},
  "order":{"field":"i","type":"quantitative"},
  "strokeDash":{"condition":{"test":"datum.t <= 0","value":[5,3]},"value":[1,0]}}},
{"data":{"name":"labels"},"mark":{"type":"text","font":"DejaVu Sans","fontSize":16,"color":"#1a1a1a","align":"center","baseline":"middle"},
 "encoding":{"x":{"field":"x","type":"quantitative","scale":{"domain":[-120.7,120],"nice":false,"zero":false},"axis":null},"y":{"field":"y","type":"quantitative","scale":{"domain":[0,42000],"nice":false,"zero":false},"axis":null},"text":{"field":"s"}}},
{"data":{"name":"levels"},"mark":{"type":"text","font":"Liberation Sans","fontSize":8,"fontWeight":"bold","color":"#1a1a1a","align":"right","baseline":"middle","dx":-3},
 "encoding":{"x":{"datum":-120.7,"type":"quantitative","scale":{"domain":[-120.7,120],"nice":false,"zero":false},"axis":null},"y":{"field":"ft","type":"quantitative","scale":{"domain":[0,42000],"nice":false,"zero":false},"axis":null},"text":{"field":"name"}}},
{"data":{"name":"notes"},"mark":{"type":"text","font":"Liberation Sans","fontSize":12,"fontWeight":"bold","color":"#1a1a1a","align":"center","baseline":"middle"},
 "encoding":{"x":{"field":"x","type":"quantitative","scale":{"domain":[-120.7,120],"nice":false,"zero":false},"axis":null},"y":{"field":"y","type":"quantitative","scale":{"domain":[0,42000],"nice":false,"zero":false},"axis":null},"text":{"field":"s"}}},
{"data":{"name":"temp"},"mark":{"type":"text","font":"Liberation Sans","fontSize":8.5,"fontWeight":"bold","color":"#1a1a1a","align":"center","baseline":"middle"},
 "encoding":{"x":{"field":"x","type":"quantitative","scale":{"domain":[-120.7,120],"nice":false,"zero":false},"axis":null},"y":{"field":"y","type":"quantitative","scale":{"domain":[0,42000],"nice":false,"zero":false},"axis":null},"text":{"field":"s"}}}
],
"resolve":{"axis":{"x":"independent","y":"independent"}}
}
